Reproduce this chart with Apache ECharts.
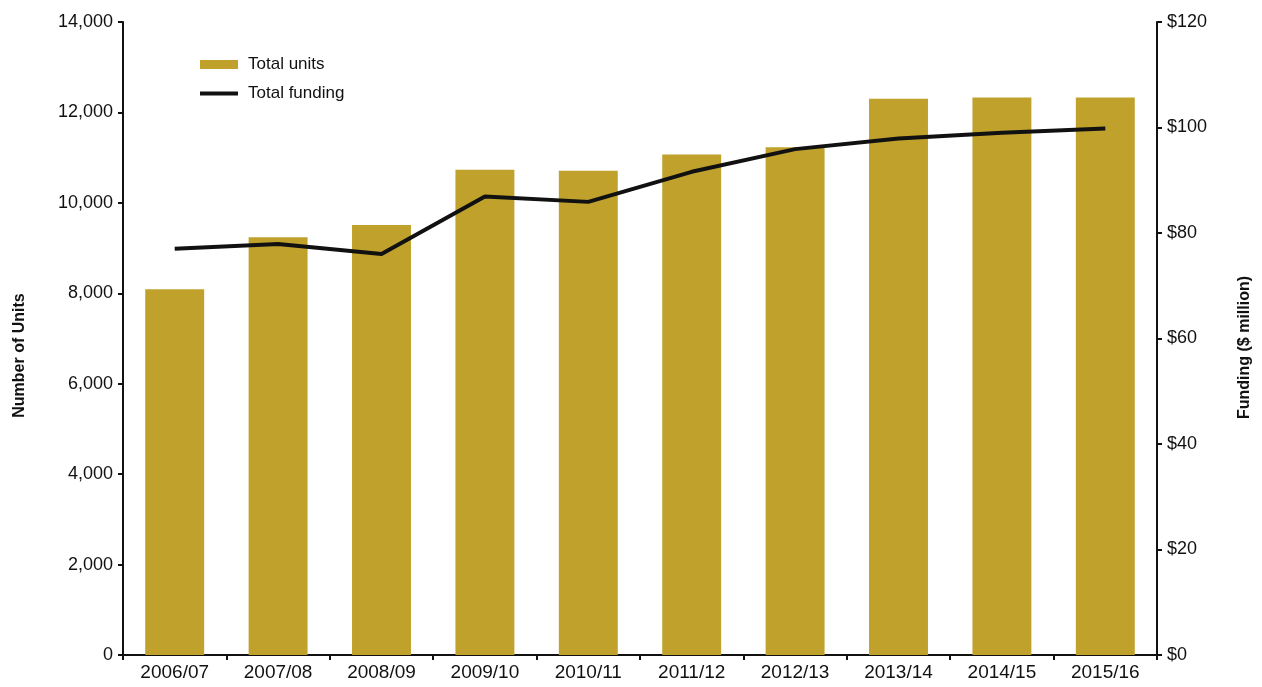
<!DOCTYPE html>
<html>
<head>
<meta charset="utf-8">
<script src="https://cdn.jsdelivr.net/npm/echarts@6/dist/echarts.min.js"></script>
<style>
  html, body { margin: 0; padding: 0; background: #fff; }
  #chart { width: 1262px; height: 687px; }
</style>
</head>
<body>
<div id="chart"></div>
<script>
// Financial years
const years = ['2006/07', '2007/08', '2008/09', '2009/10', '2010/11',
               '2011/12', '2012/13', '2013/14', '2014/15', '2015/16'];
// Total units delivered each year
const totalUnits = [8090, 9240, 9510, 10730, 10710, 11070, 11230, 12300, 12330, 12330];
// Total funding, $ million
const totalFunding = [77, 77.9, 76, 86.9, 85.9, 91.6, 95.9, 97.9, 99, 99.8];
// Axis tick values
const unitTicks = [0, 2000, 4000, 6000, 8000, 10000, 12000, 14000];
const fundingTicks = [0, 20, 40, 60, 80, 100, 120];

const FONT = "'Liberation Sans', Arial, sans-serif";
const BAR = '#BFA12C';
const INK = '#111111';

const chart = echarts.init(document.getElementById('chart'));

chart.setOption({
  backgroundColor: '#ffffff',
  animation: false,
  textStyle: { fontFamily: FONT, color: INK },
  grid: { left: 123, right: 105, top: 22, bottom: 32, containLabel: false },
  legend: [
    {
      data: ['Total units'],
      left: 200, top: 56, padding: 0,
      icon: 'rect', itemWidth: 38, itemHeight: 9, itemGap: 10,
      textStyle: { fontFamily: FONT, fontSize: 17, color: INK, padding: [0, 0, 0, 5] }
    },
    {
      data: ['Total funding'],
      left: 200, top: 85, padding: 0,
      icon: 'rect', itemWidth: 38, itemHeight: 4, itemGap: 10,
      textStyle: { fontFamily: FONT, fontSize: 17, color: INK, padding: [0, 0, 0, 5] }
    }
  ],
  xAxis: {
    type: 'category',
    data: years,
    boundaryGap: true,
    axisLine: { lineStyle: { color: INK, width: 2 } },
    axisTick: { show: true, length: 5, lineStyle: { color: INK, width: 2 } },
    axisLabel: { color: INK, fontSize: 19, margin: 8, fontFamily: FONT }
  },
  yAxis: [
    {
      type: 'value',
      min: unitTicks[0], max: unitTicks[unitTicks.length - 1], interval: 2000,
      name: 'Number of Units',
      nameLocation: 'middle', nameRotate: 90, nameGap: 95,
      nameTextStyle: {
        fontSize: 16, fontWeight: 'bold', color: INK,
        fontFamily: "'Liberation Sans Narrow', " + FONT,
        padding: [0, 34, 0, 0]
      },
      axisLine: { show: true, lineStyle: { color: INK, width: 2 } },
      axisTick: { show: true, length: 5, lineStyle: { color: INK, width: 2 } },
      splitLine: { show: false },
      axisLabel: {
        color: INK, fontSize: 18, margin: 10, fontFamily: FONT,
        formatter: v => v === 0 ? '0' : v.toLocaleString('en-US')
      }
    },
    {
      type: 'value',
      min: fundingTicks[0], max: fundingTicks[fundingTicks.length - 1], interval: 20,
      position: 'right',
      name: 'Funding ($ million)',
      nameLocation: 'middle', nameRotate: 90, nameGap: 80,
      nameTextStyle: {
        fontSize: 16, fontWeight: 'bold', color: INK,
        fontFamily: "'Liberation Sans Narrow', " + FONT,
        padding: [0, 18, 0, 0]
      },
      axisLine: { show: true, lineStyle: { color: INK, width: 2 } },
      axisTick: { show: true, length: 5, lineStyle: { color: INK, width: 2 } },
      splitLine: { show: false },
      axisLabel: {
        color: INK, fontSize: 18, margin: 10, fontFamily: FONT,
        formatter: v => '$' + v
      }
    }
  ],
  series: [
    {
      name: 'Total units',
      type: 'bar',
      yAxisIndex: 0,
      data: totalUnits,
      barWidth: '57%',
      itemStyle: { color: BAR },
      z: 1
    },
    {
      name: 'Total funding',
      type: 'line',
      yAxisIndex: 1,
      data: totalFunding,
      showSymbol: false,
      symbol: 'none',
      color: INK,
      lineStyle: { color: INK, width: 4 },
      z: 3
    }
  ]
});
</script>
</body>
</html>
